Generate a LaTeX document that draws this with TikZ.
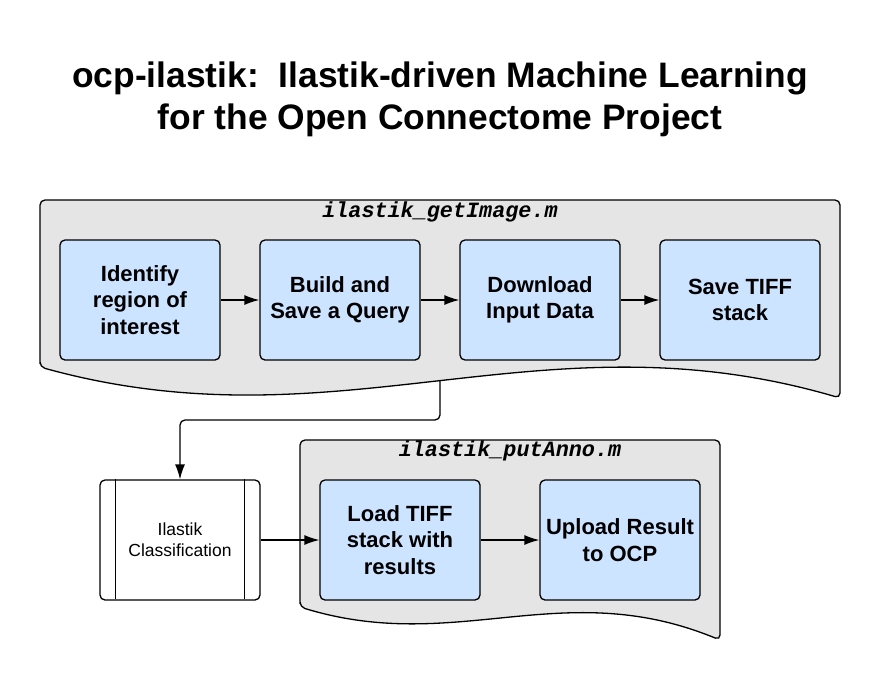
\documentclass[tikz,border=0pt]{standalone}
\usepackage{fontspec}
\setmainfont{Liberation Sans}
\newfontfamily\codefont{Liberation Mono}
\usetikzlibrary{arrows.meta}
\definecolor{docgray}{RGB}{229,229,229}
\definecolor{stepblue}{RGB}{204,228,255}
\begin{document}
\begin{tikzpicture}[x=1pt,y=-1pt,line width=1.3pt,
	stepbox/.style={draw,fill=stepblue,rounded corners=5pt,minimum width=160pt,minimum height=120pt,
		align=center,font=\fontsize{22}{26.5}\selectfont\bfseries},
	doc/.style={draw,fill=docgray,rounded corners=5pt},
	doctitle/.style={font=\fontsize{21.8}{24}\selectfont\codefont\bfseries\itshape},
	conn/.style={-{Latex[length=15pt,width=10pt]}}]
	\useasboundingbox (0,0) rectangle (880,680);
	%title
	\node[font=\fontsize{35.4}{42}\selectfont\bfseries,align=center] (title) at (440,99)
	{ocp-ilastik:\ \ Ilastik-driven Machine Learning\\for the Open Connectome Project};
	%getImage document
	\draw[doc] (40,367) -- (40,200) -- (840,200) -- (840,398)
	.. controls (540,310) and (340,450) .. (40,367) -- cycle;
	\coordinate (gs) at (440,381);
	\node[doctitle] (gt) at (440,212) {ilastik\_getImage.m};
	\node[stepbox] (roi) at (140,300) {Identify\\region of\\interest};
	\node[stepbox] (query) at (340,300) {Build and\\Save a Query};
	\node[stepbox] (down) at (540,300) {Download\\Input Data};
	\node[stepbox] (save) at (740,300) {Save TIFF\\stack};
	\draw[conn] (roi) -- (query);
	\draw[conn] (query) -- (down);
	\draw[conn] (down) -- (save);
	%putAnno document
	\draw[doc] (300,607) -- (300,440) -- (720,440) -- (720,640)
	.. controls (562,575) and (457,655) .. (300,607) -- cycle;
	\node[doctitle] (pt) at (510,451) {ilastik\_putAnno.m};
	\node[stepbox] (load) at (400,540) {Load TIFF\\stack with\\results};
	\node[stepbox] (up) at (620,540) {Upload Result\\to OCP};
	%classification
	\node[draw,fill=white,rounded corners=5pt,minimum width=160pt,minimum height=120pt,align=center,
	font=\fontsize{17.5}{21}\selectfont] (clf) at (180,540) {Ilastik\\Classification};
	\draw (clf.north west) ++(16,0) -- ++(0,120);
	\draw (clf.north east) ++(-16,0) -- ++(0,120);
	\coordinate (bend) at (440,420);
	\draw[conn,rounded corners=5pt] (gs) -- (bend) -| (clf);
	\draw[conn] (clf) -- (load);
	\draw[conn] (load) -- (up);
\end{tikzpicture}
\end{document}
